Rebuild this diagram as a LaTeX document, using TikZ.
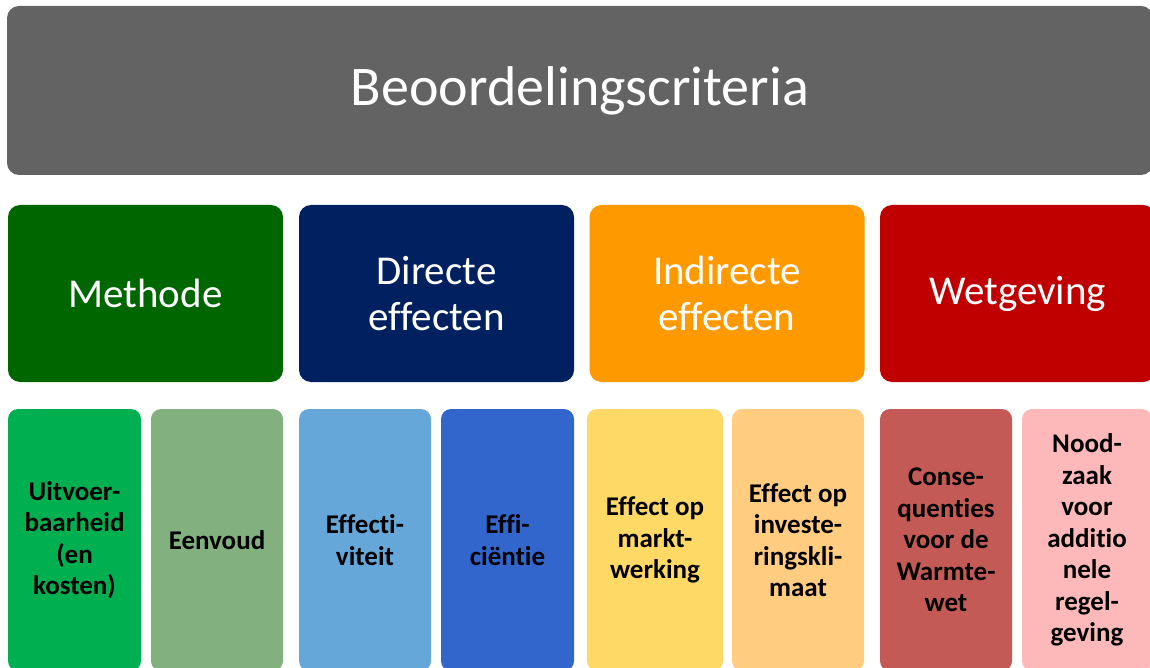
\documentclass[tikz,border=0pt]{standalone}
\usepackage{fontspec}
\setmainfont[Ligatures=NoCommon]{Carlito}
\usepackage{tikz}
\usetikzlibrary{positioning}
\definecolor{titlegray}{RGB}{99,99,99}
\definecolor{methodegreen}{RGB}{0,102,0}
\definecolor{directeblue}{RGB}{0,32,96}
\definecolor{indirecteorange}{RGB}{255,153,0}
\definecolor{wetgevingred}{RGB}{192,0,0}
\definecolor{uitvoergreen}{RGB}{0,176,80}
\definecolor{eenvoudgreen}{RGB}{130,176,126}
\definecolor{effectblue}{RGB}{100,167,216}
\definecolor{efficblue}{RGB}{51,102,204}
\definecolor{marktyellow}{RGB}{255,217,102}
\definecolor{investorange}{RGB}{255,204,128}
\definecolor{conseqred}{RGB}{196,90,86}
\definecolor{noodpink}{RGB}{253,185,185}
\tikzset{
	titlebox/.style={rectangle, rounded corners=12pt, fill=titlegray, text=white,
		minimum width=1146pt, minimum height=169pt, inner sep=0pt,
		font=\fontsize{56}{64}\selectfont},
	groupbox/.style={rectangle, rounded corners=12pt, text=white, align=center,
		minimum width=275pt, minimum height=177pt, inner sep=0pt,
		font=\fontsize{41}{46}\selectfont},
	itembox/.style={rectangle, rounded corners=10pt, text=black, align=center,
		minimum width=132pt, minimum height=262pt, inner sep=0pt,
		font=\fontsize{27}{31.5}\selectfont\bfseries},
}

\begin{document}
\begin{tikzpicture}[x=1pt, y=-1pt]
	\useasboundingbox (0,0) rectangle (1150,668);
	\clip (0,0) rectangle (1150,668);
	\node[titlebox] (criteria) at (580,90.5) {Beoordelingscriteria};
	% groups
	\node[groupbox, fill=methodegreen] (methode) at (145.5,293.5) {Methode};
	\node[groupbox, fill=directeblue] (directe) at (436.5,293.5) {Directe\\effecten};
	\node[groupbox, fill=indirecteorange] (indirecte) at (727,293.5) {Indirecte\\effecten};
	\node[groupbox, fill=wetgevingred] (wetgeving) at (1017.5,293.5) {Wetgeving};
	% criteria per group
	\node[itembox, fill=uitvoergreen, minimum width=133pt] (uitvoer) at (74.5,540) {Uitvoer-\\baarheid\\(en\\kosten)};
	\node[itembox, fill=eenvoudgreen] (eenvoud) at (217,540) {Eenvoud};
	\node[itembox, fill=effectblue] (effectiviteit) at (365,540) {Effecti-\\viteit};
	\node[itembox, fill=efficblue, minimum width=133pt] (efficientie) at (507.5,540) {Effi-\\ciëntie};
	\node[itembox, fill=marktyellow, minimum width=136pt] (markt) at (655,540) {Effect op\\markt-\\werking};
	\node[itembox, fill=investorange] (invest) at (798,540) {Effect op\\investe-\\ringskli-\\maat};
	\node[itembox, fill=conseqred] (conseq) at (946,540) {Conse-\\quenties\\voor de\\Warmte-\\wet};
	\node[itembox, fill=noodpink, minimum width=130pt] (noodzaak) at (1087,540) {Nood-\\zaak\\voor\\additio\\nele\\regel-\\geving};
\end{tikzpicture}
\end{document}
